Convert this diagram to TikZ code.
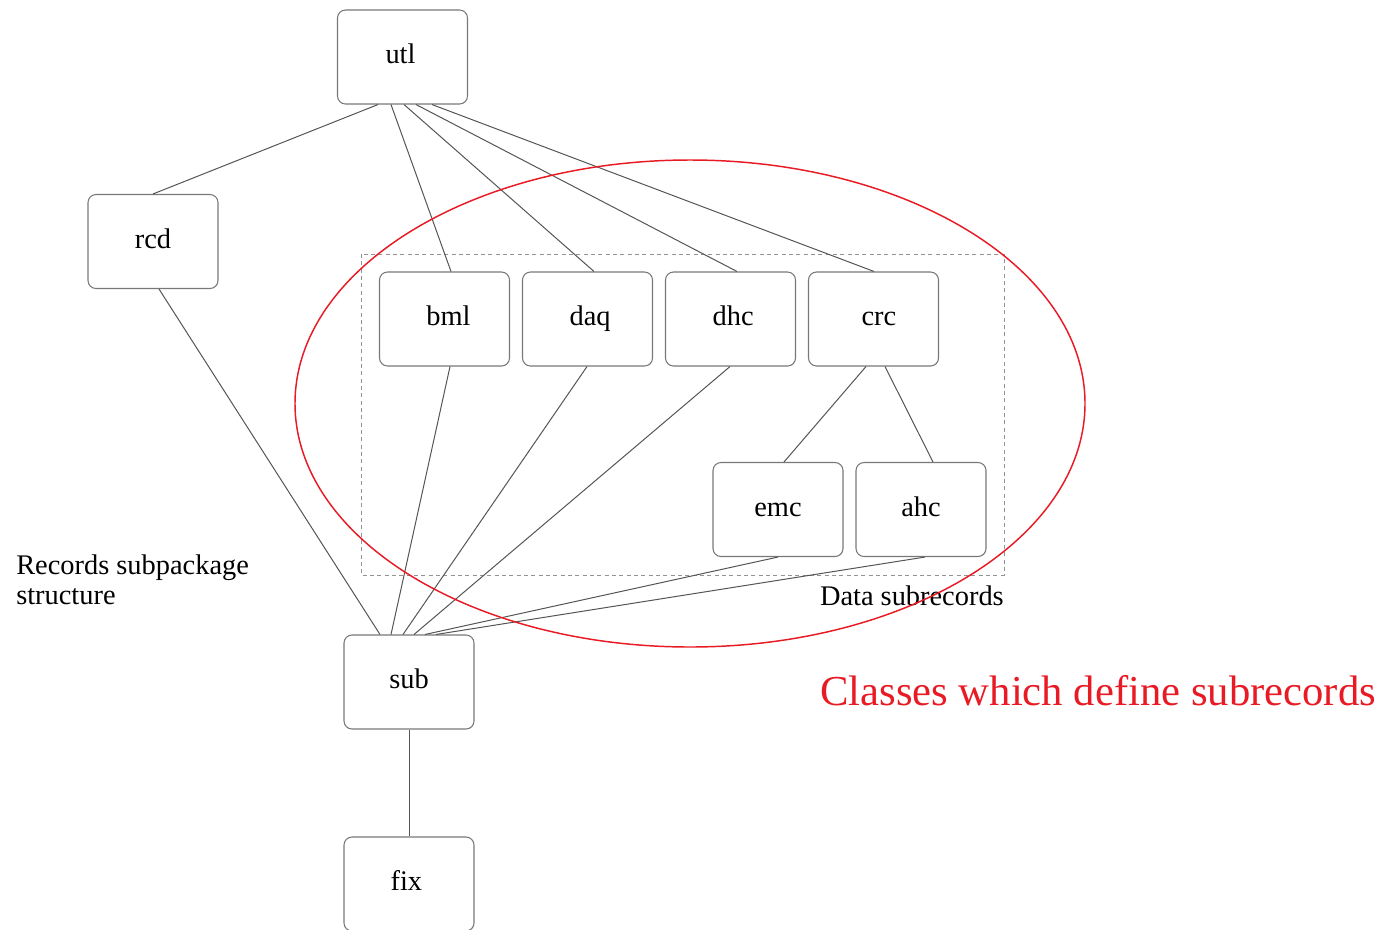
\documentclass[tikz,border=0pt]{standalone}
\usepackage{fontspec}
\setmainfont{Liberation Serif}
\usetikzlibrary{calc}
\definecolor{edgegray}{RGB}{85,85,85}
\definecolor{boxgray}{RGB}{120,120,120}
\definecolor{markred}{RGB}{232,26,36}
\tikzset{
  pkg/.style={draw=boxgray, line width=0.8pt, rounded corners=6pt, fill=white,
    minimum width=97.5pt, minimum height=70.5pt, inner sep=0pt,
    text height=14pt, text depth=4pt,
    font=\fontsize{21.3}{24}\selectfont},
  dep/.style={draw=edgegray, line width=0.75pt},
  label/.style={inner sep=0pt, font=\fontsize{21.3}{22}\selectfont},
}
\begin{document}
\begin{tikzpicture}[x=0.75pt,y=-0.75pt]
\useasboundingbox (0,0) rectangle (1385,929);

% group frame for the data subrecords
\draw[boxgray!80, line width=0.7pt, dash pattern=on 3pt off 2.5pt] (361,254) rectangle (1004,575);

% packages
\node[pkg] (utl) at (402.5,57) {\hspace*{-3pt}utl};
\node[pkg] (rcd) at (153,241.5) {rcd};
\node[pkg] (bml) at (444.5,319) {\hspace*{6pt}bml};
\node[pkg] (daq) at (587.5,319) {\hspace*{4pt}daq};
\node[pkg] (dhc) at (730.5,319) {\hspace*{4pt}dhc};
\node[pkg] (crc) at (873.5,319) {\hspace*{8pt}crc};
\node[pkg] (emc) at (778,509.5) {emc};
\node[pkg] (ahc) at (921,509.5) {ahc};
\node[pkg] (sub) at (409,682) {sub};
\node[pkg] (fix) at (409,884) {\hspace*{-4pt}fix};

% dependencies from utl
\draw[dep] ($(utl.south)+(-24.5,0)$) -- (rcd.north);
\draw[dep] ($(utl.south)+(-11.5,0)$) -- ($(bml.north)+(6.5,0)$);
\draw[dep] ($(utl.south)+(1.5,0)$) -- ($(daq.north)+(6.5,0)$);
\draw[dep] ($(utl.south)+(13.5,0)$) -- ($(dhc.north)+(6.5,0)$);
\draw[dep] ($(utl.south)+(29.5,0)$) -- ($(crc.north)+(0.5,0)$);

% crc children
\draw[dep] ($(crc.south)+(-7.5,0)$) -- ($(emc.north)+(6,0)$);
\draw[dep] ($(crc.south)+(11.5,0)$) -- ($(ahc.north)+(12,0)$);

% dependencies into sub
\draw[dep] ($(rcd.south)+(6,0)$) -- ($(sub.north)+(-29,0)$);
\draw[dep] ($(bml.south)+(5.5,0)$) -- ($(sub.north)+(-18,0)$);
\draw[dep] ($(daq.south)+(-0.5,0)$) -- ($(sub.north)+(-6,0)$);
\draw[dep] ($(dhc.south)+(-0.5,0)$) -- ($(sub.north)+(5,0)$);
\draw[dep] (emc.south) -- ($(sub.north)+(16,0)$);
\draw[dep] ($(ahc.south)+(4,0)$) -- ($(sub.north)+(27,0)$);
\draw[dep] (sub.south) -- (fix.north);

% captions
\node[label, anchor=base east] (datalbl) at (1004,605) {Data subrecords};
\node[label, anchor=north west, align=left] (reclbl) at (16,555) {Records subpackage\\structure};

% highlight
\draw[markred, line width=1.1pt] (690,403.5) ellipse [x radius=395, y radius=243.5];
\node[inner sep=0pt, anchor=base west, text=markred, font=\fontsize{32}{36}\selectfont] (note) at (820,705) {Classes which define subrecords};
\end{tikzpicture}
\end{document}
